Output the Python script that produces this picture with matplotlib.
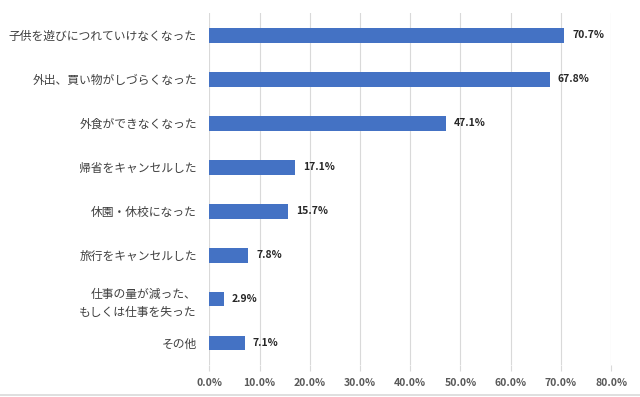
import matplotlib.pyplot as plt
from matplotlib.lines import Line2D
from matplotlib.ticker import FuncFormatter

plt.rcParams['font.family'] = ['Noto Sans CJK JP', 'DejaVu Sans']

# 回答項目と割合(%)
categories = [
    "子供を遊びにつれていけなくなった",
    "外出、買い物がしづらくなった",
    "外食ができなくなった",
    "帰省をキャンセルした",
    "休園・休校になった",
    "旅行をキャンセルした",
    "仕事の量が減った、\nもしくは仕事を失った",
    "その他",
]
values = [70.7, 67.8, 47.1, 17.1, 15.7, 7.8, 2.9, 7.1]
xticks = [0, 10, 20, 30, 40, 50, 60, 70, 80]

fig = plt.figure(figsize=(6.4, 3.97), dpi=100)
ax = fig.add_axes([0.327, 0.0806, 0.628, 0.8864])

pos = list(range(len(categories)))
ax.barh(pos, values, height=0.34, color='#4472C4', zorder=2)

for p, v in zip(pos, values):
    ax.annotate(f"{v:.1f}%", (v, p), xytext=(5.5, 0), textcoords='offset points',
                ha='left', va='center', fontsize=7.5, fontweight='bold', color='#262626')

ax.set_ylim(len(categories) - 0.5, -0.5)
ax.set_xlim(0, 80)
ax.set_yticks(pos)
ax.set_yticklabels(categories, fontsize=8.5, color='#404040', linespacing=1.5)
ax.set_xticks(xticks)
ax.xaxis.set_major_formatter(FuncFormatter(lambda x, _: f"{x:.1f}%"))
for t in ax.get_xticklabels():
    t.set_fontweight('bold')
ax.tick_params(axis='x', labelsize=7.5, colors='#595959', length=4, color='#d9d9d9', pad=5)
ax.tick_params(axis='y', length=0, pad=9)
ax.grid(axis='x', color='#d9d9d9', linewidth=0.8, zorder=0)
for s in ax.spines.values():
    s.set_visible(False)

# 下端の薄い枠線
fig.add_artist(Line2D([0, 1], [0.004, 0.004], transform=fig.transFigure,
                      color='#d9d9d9', linewidth=1.2))

fig.savefig('out.png', dpi=100)
